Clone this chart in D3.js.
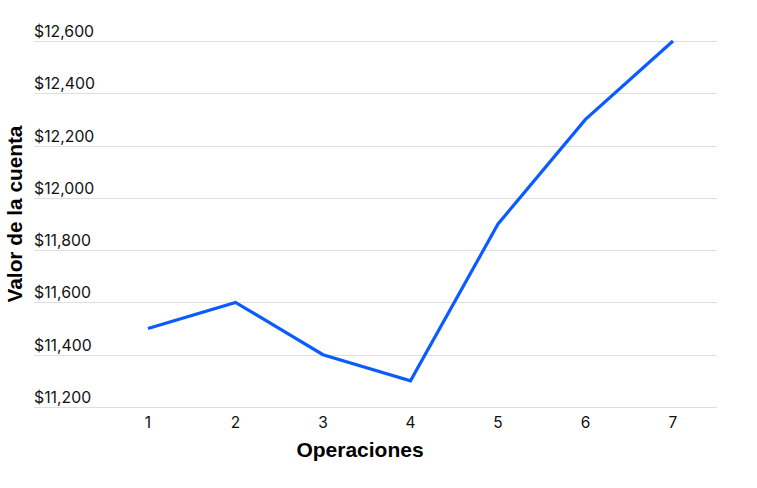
<!DOCTYPE html>
<html><head><meta charset="utf-8">
<script src="https://cdn.jsdelivr.net/npm/d3@7"></script>
<style>body{margin:0;background:#fff}svg{display:block}</style>
</head><body>
<svg id="c" width="757" height="488"></svg>
<script>
const operaciones = [1, 2, 3, 4, 5, 6, 7];
const valores = [11500, 11600, 11400, 11300, 11900, 12300, 12600];
const yTicks = [11200, 11400, 11600, 11800, 12000, 12200, 12400, 12600];

const svg = d3.select("#c");
const x = d3.scalePoint().domain(operaciones).range([148, 673]);
const y = d3.scaleLinear().domain([11200, 12600]).range([407, 41]);
const fmt = d => "$" + d3.format(",")(d);

const g = svg.append("g");
yTicks.forEach(t => {
  g.append("line").attr("x1", 34).attr("x2", 717)
    .attr("y1", Math.round(y(t)) + 0.5).attr("y2", Math.round(y(t)) + 0.5)
    .attr("stroke", "#dedede").attr("stroke-width", 1);
  g.append("text").attr("x", 34).attr("y", y(t) - 4)
    .attr("font-family", "Inter, 'Liberation Sans', sans-serif")
    .attr("font-size", 15.8).attr("fill", "#111").text(fmt(t));
});

operaciones.forEach(o => {
  g.append("text").attr("x", x(o)).attr("y", 428).attr("text-anchor", "middle")
    .attr("font-family", "Inter, 'Liberation Sans', sans-serif")
    .attr("font-size", 15.5).attr("fill", "#111").text(o);
});

const line = d3.line().x((d, i) => x(operaciones[i])).y(d => y(d));
g.append("path").datum(valores).attr("d", line).attr("fill", "none")
  .attr("stroke", "#0a5cff").attr("stroke-width", 3.2).attr("stroke-linejoin", "miter");

svg.append("text").attr("x", 360).attr("y", 457).attr("text-anchor", "middle")
  .attr("font-family", "'Liberation Sans', Arial, sans-serif").attr("font-weight", "bold")
  .attr("font-size", 21).attr("fill", "#000").text("Operaciones");

svg.append("text").attr("transform", "translate(22,214) rotate(-90)").attr("text-anchor", "middle")
  .attr("font-family", "'Liberation Sans', Arial, sans-serif").attr("font-weight", "bold")
  .attr("font-size", 20.8).attr("fill", "#000").text("Valor de la cuenta");
</script>
</body></html>
